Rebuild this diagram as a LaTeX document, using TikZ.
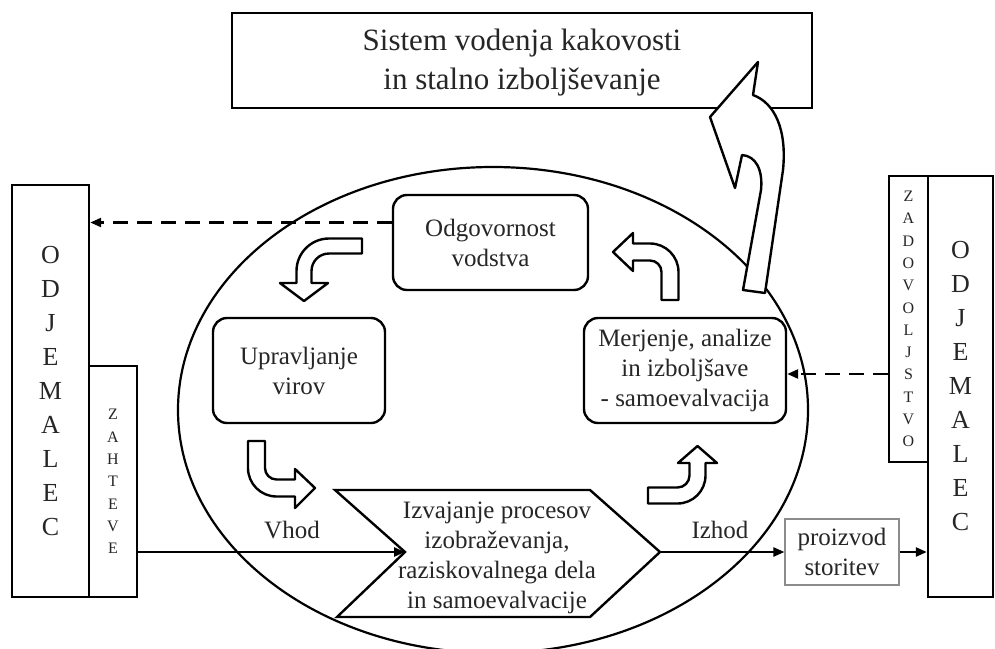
\documentclass[tikz,border=0pt]{standalone}
\usepackage{fontspec}
\setmainfont{Liberation Serif}
\usetikzlibrary{arrows.meta}
\begin{document}
\begin{tikzpicture}[x=1pt,y=-1pt,
  box/.style={draw, line width=2.4pt, fill=white, inner sep=0pt, text=black!85},
  rbox/.style={box, rounded corners=14pt, align=center, font=\fontsize{25}{30}\selectfont},
  bigfont/.style={font=\fontsize{26}{34}\selectfont},
  smallfont/.style={font=\fontsize{16}{22.3}\selectfont},
  lbl/.style={font=\fontsize{25}{30}\selectfont, text=black!85, inner sep=0pt},
  conn/.style={line width=2.4pt, -{Triangle[length=11pt,width=9pt]}},
  dconn/.style={conn, dash pattern=on 15pt off 9pt},
  barrow/.style={draw, line width=2.4pt, fill=white, line join=round},
]
\useasboundingbox (0,0) rectangle (995,648);

% ellipse
\draw[line width=2.2pt] (493,410) ellipse [x radius=315, y radius=243];

% top box
\node[box, minimum width=580, minimum height=95] (top) at (522,60.5) {};
\node[align=center, inner sep=0pt, text=black!85, font=\fontsize{31}{39}\selectfont] (toptext) at (522,63) {Sistem vodenja kakovosti\\in stalno izboljševanje};

% rounded boxes
\node[rbox, minimum width=195, minimum height=95] (odg) at (490.5,242.5) {Odgovornost\\vodstva};
\node[rbox, minimum width=172, minimum height=105] (upr) at (299,370.5) {Upravljanje\\virov};
\node[rbox, minimum width=202, minimum height=105] (mer) at (685,370.5) {Merjenje, analize\\in izboljšave\\- samoevalvacija};

% product box
\node[draw=black!45, line width=1.2pt, fill=white, minimum width=114, minimum height=66, inner sep=0pt, align=center, font=\fontsize{25}{30}\selectfont, text=black!85] (pro) at (842,552) {proizvod\\storitev};

% customer columns
\node[box, minimum width=77, minimum height=412, align=center, bigfont] (lodj) at (50.5,391) {O\\D\\J\\E\\M\\A\\L\\E\\C};
\node[box, minimum width=48, minimum height=231, align=center, smallfont] (zah) at (113,481.5) {Z\\A\\H\\T\\E\\V\\E};
\node[box, minimum width=65, minimum height=421, align=center, bigfont] (rodj) at (960.5,386.5) {O\\D\\J\\E\\M\\A\\L\\E\\C};
\node[box, minimum width=39, minimum height=286, align=center, smallfont] (zad) at (908.5,319) {Z\\A\\D\\O\\V\\O\\L\\J\\S\\T\\V\\O};

% process shape
\coordinate (pA) at (335,490);
\coordinate (pB) at (590,490);
\coordinate (ptip) at (660,552);
\coordinate (pC) at (590,617);
\coordinate (pD) at (337,617);
\coordinate (notch) at (405,552);
\draw[line width=2.4pt, fill=white, line join=miter] (pA) -- (pB) -- (ptip) -- (pC) -- (pD) -- (notch) -- cycle;
\node[lbl, align=center] (proc) at (497,557.5) {Izvajanje procesov\\izobraževanja,\\raziskovalnega dela\\in samoevalvacije};

% labels
\node[lbl] (vhod) at (292,530) {Vhod};
\node[lbl] (izhod) at (720,530) {Izhod};

% connectors
\draw[conn] (zah.east |- notch) -- (notch);
\draw[conn] (ptip) -- (pro.west);
\draw[conn] (pro.east) -- (pro.east -| rodj.west);
\coordinate (d1) at ([yshift=20pt]odg.west);
\draw[dconn] (d1) -- (d1 -| lodj.east);
\coordinate (d2) at ([yshift=-3.5pt]mer.east);
\draw[dconn] (d2 -| zad.west) -- (d2);

% block arrows
\draw[barrow] (362,238.5) -- (329,238.5) arc[start angle=270, end angle=180, radius=32.5] -- (296.5,283) -- (280,283) -- (304,301) -- (328,283) -- (311.5,283) -- (311.5,271) arc[start angle=180, end angle=270, radius=17.5] -- (362,253.5) -- cycle;
\draw[barrow] (248,441) -- (248,468) arc[start angle=180, end angle=90, radius=28.5] -- (295,496.5) -- (295,508) -- (315,488) -- (295,469) -- (295,479.5) -- (276.5,479.5) arc[start angle=90, end angle=180, radius=11.5] -- (265,441) -- cycle;
\draw[barrow] (648,503.5) -- (677.5,503.5) arc[start angle=90, end angle=0, radius=28] -- (705.5,463) -- (717,463) -- (697.5,446) -- (678,463) -- (689.5,463) -- (689.5,475.5) arc[start angle=0, end angle=90, radius=12] -- (648,487.5) -- cycle;
\draw[barrow] (678.5,300) -- (678.5,272) arc[start angle=0, end angle=-90, radius=28.5] -- (633,243.5) -- (633,233) -- (613,252) -- (633,271) -- (633,260.5) -- (650,260.5) arc[start angle=-90, end angle=0, radius=11.5] -- (661.5,300) -- cycle;
\draw[barrow] (743,290) -- (765,293) -- (783,170) .. controls (787,130) and (775,103) .. (753,95) -- (758,62) -- (710,117) -- (735,188) -- (742,155) .. controls (756,156) and (763,170) .. (761,190) -- cycle;
\end{tikzpicture}
\end{document}
